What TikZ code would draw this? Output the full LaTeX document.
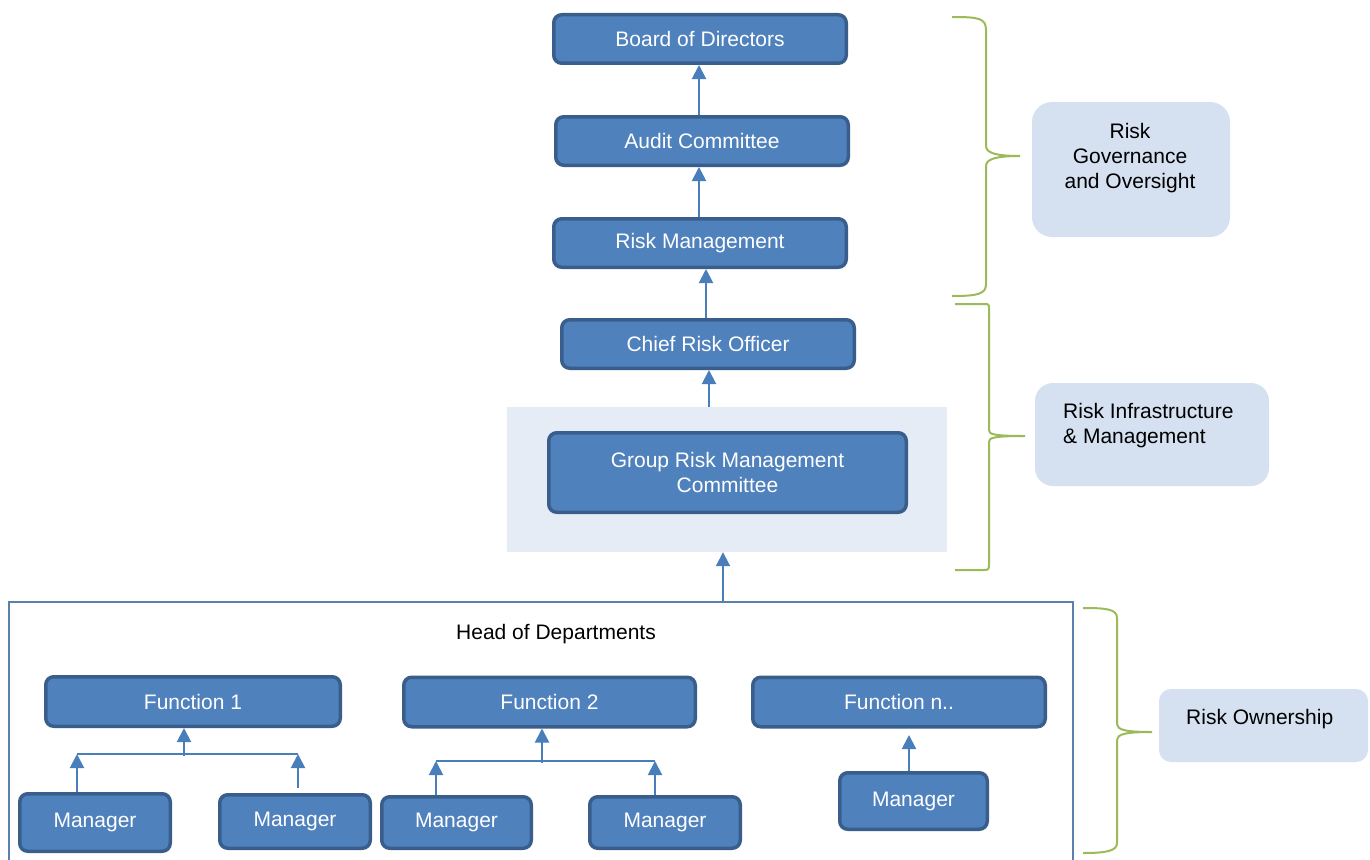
\documentclass[tikz,border=0pt]{standalone}
\usepackage{fontspec}
\setmainfont{Liberation Sans}
\usetikzlibrary{arrows.meta}
\definecolor{boxblue}{HTML}{4F81BD}
\definecolor{boxedge}{HTML}{3A5E8C}
\definecolor{arrowblue}{HTML}{4A7EBB}
\definecolor{bracegreen}{HTML}{9BBB59}
\definecolor{lblfill}{HTML}{D5E0F0}
\definecolor{shadefill}{HTML}{E6ECF5}
\definecolor{framecol}{HTML}{5C80AE}
\begin{document}
\begin{tikzpicture}[x=1pt,y=-1pt,
  txt/.style={font=\fontsize{21}{25}\selectfont},
  bluebox/.style={txt,draw=boxedge,fill=boxblue,line width=3.5pt,rounded corners=8pt,text=white,inner sep=0pt,align=center},
  arr/.style={draw=arrowblue,line width=2pt,-{Triangle[width=14pt,length=14pt]}},
  conn/.style={draw=arrowblue,line width=2pt},
  brace/.style={draw=bracegreen,line width=2pt},
  lbl/.style={fill=lblfill,inner sep=0pt},
  lbltext/.style={txt,text=black,inner sep=0pt}]
\useasboundingbox (0,0) rectangle (1370,859);
\clip (0,0) rectangle (1370,859);

% background frames
\node[fill=shadefill,minimum width=440,minimum height=145,inner sep=0pt] (shade) at (727,479.5) {};
\node[draw=framecol,line width=1.5pt,minimum width=1064,minimum height=300,inner sep=0pt] (frame) at (541,752) {};

% governance chain
\node[bluebox,minimum width=292.5,minimum height=48.5] (board) at (700,39) {Board of Directors};
\node[bluebox,minimum width=292.5,minimum height=48.5] (audit) at (702,141) {Audit Committee};
\node[bluebox,minimum width=292.5,minimum height=48.5] (rm) at (700,243) {Risk Management};
\node[bluebox,minimum width=292.5,minimum height=48.5] (cro) at (708,344) {Chief Risk Officer};
\node[bluebox,minimum width=357.5,minimum height=79.5] (grmc) at (727.5,472.5) {Group Risk Management\\Committee};

\draw[arr] ([xshift=-1pt]board.south |- audit.north) -- ([xshift=-1pt]board.south);
\draw[arr] ([xshift=-1pt]rm.north) -- ([xshift=-1pt]rm.north |- audit.south);
\draw[arr] ([xshift=-2pt]cro.north) -- ([xshift=-2pt]cro.north |- rm.south);
\draw[arr] ([xshift=1pt]cro.south |- shade.north) -- ([xshift=1pt]cro.south);
\draw[arr] ([xshift=-4pt]shade.south |- frame.north) -- ([xshift=-4pt]shade.south);

% departments
\node[lbltext] (hod) at (556,634) {Head of Departments};
\node[bluebox,minimum width=294.5,minimum height=49.5] (f1) at (193,701.5) {Function 1};
\node[bluebox,minimum width=291.5,minimum height=49.5] (f2) at (549.5,702) {Function 2};
\node[bluebox,minimum width=292.5,minimum height=49.5] (fn) at (899,702) {Function n..};

\node[bluebox,minimum width=150.5,minimum height=57.5] (m1) at (95,822.5) {Manager};
\node[bluebox,minimum width=150.5,minimum height=53.5] (m2) at (295,821.5) {Manager};
\node[bluebox,minimum width=149.5,minimum height=51.5] (m3) at (456.5,822.5) {Manager};
\node[bluebox,minimum width=150.5,minimum height=51.5] (m4) at (665,822.5) {Manager};
\node[bluebox,minimum width=147.5,minimum height=56.5] (m5) at (913.5,801) {Manager};

% function 1 tree
\coordinate (j1) at (184,756);
\coordinate (h1l) at (77,754);
\coordinate (h1r) at (298,754);
\coordinate (b2) at (298,788);
\draw[conn] (h1l) -- (h1r);
\draw[arr] (j1) -- (j1 |- f1.south);
\draw[arr] (h1l |- m1.north) -- (h1l);
\draw[arr] (b2) -- (h1r);

% function 2 tree
\coordinate (j2) at (542,763);
\coordinate (h2l) at (436,761);
\coordinate (h2r) at (655,761);
\draw[conn] (h2l) -- (h2r);
\draw[arr] (j2) -- (j2 |- f2.south);
\draw[arr] (h2l |- m3.north) -- (h2l);
\draw[arr] (h2r |- m4.north) -- (h2r);

% function n
\coordinate (tn) at (909,735);
\draw[arr] (tn |- m5.north) -- (tn);

% braces
\draw[brace] (952,17) .. controls (978,17) and (986,18) .. (986,30) -- (986,146)
  .. controls (986,153) and (996,156) .. (1020,156)
  .. controls (996,156) and (986,159) .. (986,166) -- (986,284)
  .. controls (986,294) and (978,296) .. (952,296);
\draw[brace] (955,304) -- (985,304) .. controls (989,304) and (989,305) .. (989,309) -- (989,430)
  .. controls (989,434) and (992,436) .. (1025,436)
  .. controls (992,436) and (989,438) .. (989,442) -- (989,565)
  .. controls (989,569) and (988,570) .. (984,570) -- (955,570);
\draw[brace] (1083,608) .. controls (1106,608) and (1117,609) .. (1117,618) -- (1117,724)
  .. controls (1117,730) and (1126,732) .. (1152,732)
  .. controls (1126,732) and (1117,734) .. (1117,740) -- (1117,843)
  .. controls (1117,851) and (1106,853) .. (1083,853);

% labels
\node[lbl,rounded corners=20pt,minimum width=198,minimum height=135] (rgo) at (1131,169.5) {};
\node[lbltext,align=center] (rgot) at (1130,158) {Risk\\Governance\\and Oversight};
\node[lbl,rounded corners=18pt,minimum width=234,minimum height=103] (rim) at (1152,434.5) {};
\node[lbltext,align=left,anchor=west] (rimt) at (1063,425.5) {Risk Infrastructure\\\& Management};
\node[lbl,rounded corners=12pt,minimum width=209,minimum height=73] (row) at (1263.5,725.5) {};
\node[lbltext,anchor=west] (rowt) at (1186,719) {Risk Ownership};
\end{tikzpicture}
\end{document}
